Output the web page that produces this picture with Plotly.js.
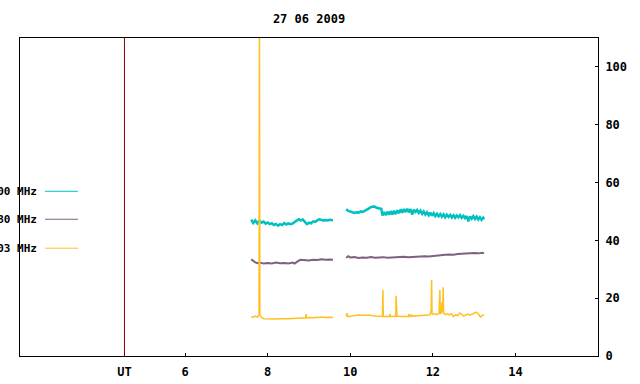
<!DOCTYPE html>
<html>
<head>
<meta charset="utf-8">
<script src="https://cdn.plot.ly/plotly-3.0.1.min.js"></script>
<style>html,body{margin:0;padding:0;background:#fff;}#chart{width:640px;height:384px;}</style>
</head>
<body>
<div id="chart"></div>
<script>
// ---- data (UT hours, values) ----
const titleText = "27 06 2009";
const seriesNames = ["2000 MHz", "1980 MHz", "1503 MHz"];
const seriesColors = ["#00c0c0", "#806080", "#ffc020"];
const seriesWidths = [2.5, 2, 1.5];
const utMark = 4.53;
const xTickVals = [4.53, 6, 8, 10, 12, 14];
const xTickText = ["UT", "6", "8", "10", "12", "14"];

const cyanT = [7.60,7.65,7.70,7.75,7.80,7.85,7.90,7.95,8.00,8.05,8.10,8.15,8.20,8.25,8.30,8.35,8.40,8.45,8.50,8.55,8.60,8.65,8.70,8.75,8.80,8.85,8.90,8.95,9.00,9.05,9.10,9.15,9.20,9.25,9.30,9.35,9.40,9.45,9.50,9.55,9.58,
  null,
  9.90,9.95,10.00,10.05,10.10,10.15,10.20,10.25,10.30,10.35,10.40,10.45,10.50,10.55,10.60,10.65,10.70,10.75,10.78,10.82,10.86,10.90,10.94,10.98,11.02,11.06,11.10,11.14,11.18,11.22,11.26,11.30,11.34,11.38,11.42,11.46,11.50,11.54,11.58,11.62,11.66,11.70,11.74,11.78,11.82,11.86,11.90,11.94,11.98,12.02,12.06,12.10,12.14,12.18,12.22,12.26,12.30,12.34,12.38,12.42,12.46,12.50,12.54,12.58,12.62,12.66,12.70,12.74,12.78,12.82,12.86,12.90,12.94,12.98,13.02,13.06,13.10,13.14,13.18,13.22,13.24];
const cyanV = [47.2,46.0,46.9,45.9,46.8,46.1,46.5,45.8,46.2,45.6,45.9,45.3,45.7,45.1,45.6,45.3,46.0,45.5,45.9,45.6,45.8,46.2,46.6,47.3,46.9,47.2,46.4,45.6,46.1,45.9,46.6,46.4,46.9,47.3,47.1,46.8,47.0,46.9,47.1,46.9,47.0,
  null,
  50.8,50.2,50.0,49.8,49.5,49.7,49.6,50.0,49.8,50.2,50.7,51.1,51.5,51.7,51.6,51.2,51.0,50.9,48.6,49.8,48.7,49.9,48.9,50.1,49.0,50.2,49.1,50.4,49.4,50.7,49.6,50.8,49.8,50.9,49.7,50.8,48.9,50.6,49.8,50.5,49.5,50.3,49.2,50.0,48.9,49.7,48.7,49.6,48.5,49.4,48.4,49.2,48.3,49.1,48.2,49.0,48.0,48.9,48.1,48.8,47.9,48.7,47.8,48.6,48.0,48.7,47.8,48.5,47.7,48.4,46.6,48.3,47.5,48.4,47.4,48.2,47.2,48.0,47.1,47.8,47.3];

const purpleT = [7.60,7.65,7.70,7.75,7.80,7.90,8.00,8.10,8.20,8.30,8.40,8.50,8.60,8.65,8.70,8.75,8.80,8.90,9.00,9.10,9.20,9.30,9.40,9.50,9.58,
  null,
  9.90,9.95,10.00,10.10,10.20,10.30,10.40,10.50,10.60,10.70,10.80,10.90,11.00,11.10,11.20,11.30,11.40,11.50,11.60,11.70,11.80,11.90,12.00,12.10,12.20,12.30,12.40,12.50,12.60,12.70,12.80,12.90,13.00,13.10,13.20,13.24];
const purpleV = [33.4,32.8,32.4,32.1,32.3,32.0,32.2,32.0,32.3,32.1,32.2,32.0,32.3,32.0,32.6,33.0,33.3,33.2,33.0,33.3,33.2,33.5,33.3,33.4,33.3,
  null,
  34.0,34.5,34.1,34.2,33.9,34.1,34.0,34.2,34.0,34.1,34.2,34.0,34.1,34.0,34.2,34.3,34.2,34.3,34.4,34.3,34.5,34.4,34.6,34.7,34.8,35.0,35.1,35.0,35.3,35.4,35.5,35.4,35.6,35.5,35.7,35.5];

const yellowT = [7.60,7.65,7.70,7.75,7.79,7.80,7.81,7.83,7.86,7.90,8.00,8.10,8.20,8.30,8.40,8.50,8.60,8.70,8.80,8.92,8.93,8.94,9.00,9.10,9.20,9.25,9.30,9.40,9.50,9.58,
  null,
  9.90,9.92,9.94,10.00,10.10,10.20,10.30,10.40,10.50,10.58,10.70,10.78,10.79,10.80,10.88,10.95,10.96,10.97,11.05,11.10,11.11,11.12,11.13,11.20,11.30,11.41,11.42,11.43,11.47,11.48,11.49,11.60,11.70,11.80,11.90,11.94,11.96,11.97,11.98,12.00,12.05,12.10,12.15,12.17,12.18,12.21,12.22,12.24,12.25,12.26,12.30,12.35,12.40,12.45,12.50,12.55,12.60,12.65,12.70,12.75,12.80,12.85,12.90,12.95,13.00,13.05,13.10,13.15,13.20,13.24];
const yellowV = [13.6,13.4,13.8,13.5,14.2,118,14.3,13.9,13.2,12.9,12.8,12.9,12.8,12.9,12.8,12.9,13.0,13.0,13.1,13.2,14.5,13.2,13.3,13.2,13.4,13.3,13.5,13.3,13.4,13.3,
  null,
  13.7,14.8,13.6,13.7,14.1,14.2,14.1,14.2,14.1,13.8,13.7,13.7,22.8,13.7,13.7,13.7,14.6,13.7,13.7,13.8,20.8,16.3,13.8,13.7,13.8,13.7,14.6,13.7,13.8,14.4,13.8,13.9,14.0,13.9,14.2,14.4,16.3,26.3,14.8,14.4,14.6,14.3,14.7,22.8,14.6,15.0,18.6,15.3,23.8,14.8,14.3,14.6,14.2,14.6,13.6,14.2,14.0,14.9,14.3,13.8,14.2,14.5,14.1,14.4,14.9,15.2,14.6,13.5,14.0,14.3];

// ---- chart ----
const FONT = "DejaVu Sans Mono, monospace";
const TXT = {family: FONT, size: 12, color: "#000", weight: "bold"};
const LEGTXT = {family: FONT, size: 11, color: "#000", weight: "bold"};
const seriesT = [cyanT, purpleT, yellowT];
const seriesV = [cyanV, purpleV, yellowV];
const traces = seriesT.map((t, i) => ({
  x: t, y: seriesV[i], type: "scatter", mode: "lines",
  line: {color: seriesColors[i], width: seriesWidths[i]},
  connectgaps: false, hoverinfo: "skip", showlegend: false
}));

const legY = [0.518, 0.430, 0.339];
const shapes = [
  {type: "line", xref: "x", yref: "paper", x0: utMark, x1: utMark, y0: 0, y1: 1,
   line: {color: "#8b0000", width: 1}}
];
const annotations = [];
seriesNames.forEach((n, i) => {
  shapes.push({type: "line", xref: "paper", yref: "paper", x0: 0.0433, x1: 0.1003,
    y0: legY[i], y1: legY[i], line: {color: seriesColors[i], width: 1}});
  annotations.push({xref: "paper", yref: "paper", x: 0.0337, y: legY[i],
    xanchor: "right", yanchor: "middle", showarrow: false, text: n, font: LEGTXT});
});

const layout = {
  width: 640, height: 384,
  margin: {l: 20, r: 42, t: 38, b: 28},
  paper_bgcolor: "#fff", plot_bgcolor: "#fff",
  title: {text: titleText, x: 0.5, xref: "paper", y: 1 - 18.5/384, yref: "container",
    xanchor: "center", yanchor: "middle", font: TXT},
  xaxis: {range: [2, 16], tickvals: xTickVals, ticktext: xTickText,
    showgrid: false, zeroline: false, showline: true, mirror: true,
    linecolor: "#000", linewidth: 1, ticks: "inside", ticklen: 3, tickcolor: "#000",
    ticklabelstandoff: 5, tickfont: TXT},
  yaxis: {range: [0, 110], side: "right", tick0: 0, dtick: 20,
    showgrid: false, zeroline: false, showline: true, mirror: true,
    linecolor: "#000", linewidth: 1, ticks: "inside", ticklen: 3, tickcolor: "#000",
    ticklabelstandoff: 4, tickfont: TXT},
  shapes: shapes,
  annotations: annotations,
  showlegend: false
};

Plotly.newPlot("chart", traces, layout, {staticPlot: true, displayModeBar: false});
</script>
</body>
</html>
